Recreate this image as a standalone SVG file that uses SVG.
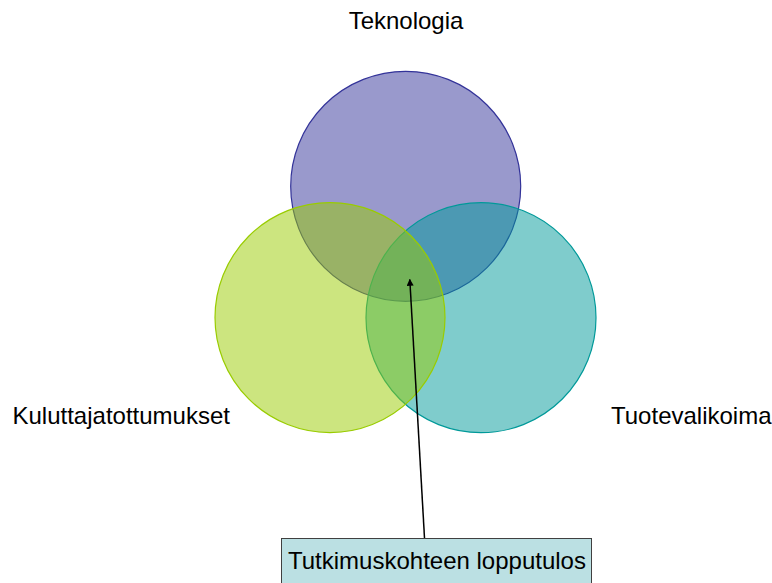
<svg xmlns="http://www.w3.org/2000/svg" width="772" height="583" viewBox="0 0 772 583">
  <defs>
    <style>
      .lbl { font-family: "Liberation Sans", Arial, sans-serif; font-size: 24px; fill: #000; }
      .set { stroke-width: 1.2; }
    </style>
    <marker id="arrowHead" viewBox="0 0 10 10" refX="9" refY="5" markerWidth="7" markerHeight="7" markerUnits="userSpaceOnUse" orient="auto">
      <path d="M0,0 L10,5 L0,10 z" fill="#000"/>
    </marker>
  </defs>
  <rect width="772" height="583" fill="#fff"/>

  <!-- Venn sets: purple first, then teal, then green on top -->
  <g id="teknologia">
    <circle class="set" cx="405.7" cy="186.3" r="115" fill="#333399" fill-opacity="0.5" stroke="#333399"/>
    <text class="lbl" x="406" y="29" text-anchor="middle">Teknologia</text>
  </g>
  <g id="tuotevalikoima">
    <circle class="set" cx="481" cy="317.7" r="115" fill="#009999" fill-opacity="0.5" stroke="#009999"/>
    <text class="lbl" x="611" y="424">Tuotevalikoima</text>
  </g>
  <g id="kuluttajatottumukset">
    <circle class="set" cx="330" cy="317.6" r="115" fill="#99CC00" fill-opacity="0.5" stroke="#99CC00"/>
    <text class="lbl" x="12.5" y="424">Kuluttajatottumukset</text>
  </g>

  <g id="connectors">
    <line x1="424.5" y1="538" x2="409.8" y2="279.5" stroke="#000" stroke-width="1.5" marker-end="url(#arrowHead)"/>
  </g>

  <g id="lopputulos">
    <rect x="281.5" y="538.5" width="310" height="60" fill="#BBE0E3" stroke="#404040" stroke-width="1"/>
    <text class="lbl" x="288" y="569">Tutkimuskohteen lopputulos</text>
  </g>
</svg>
